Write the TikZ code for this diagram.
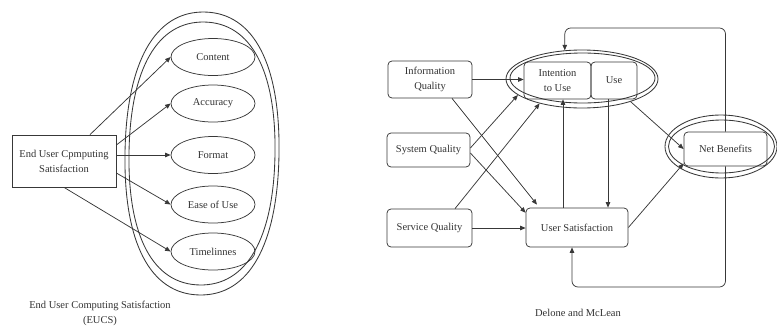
\documentclass[tikz,border=0pt]{standalone}
\usepackage{fontspec}
\setmainfont{Liberation Serif}
\usetikzlibrary{arrows.meta,shapes.geometric}
\begin{document}
\begin{tikzpicture}[x=1pt,y=-1pt,
  every node/.style={font=\fontsize{10.5}{15}\selectfont, text=black!80, align=center, inner sep=0pt},
  line/.style={draw=black!78, line width=0.75pt},
  arr/.style={line, -{Triangle[length=5.5pt,width=4.5pt]}},
  sqbox/.style={line, rectangle, fill=white},
  rbox/.style={line, rectangle, rounded corners=4pt},
  oval/.style={line, ellipse, minimum width=84, minimum height=37},
  ring/.style={line, ellipse, line width=0.85pt},
  loop/.style={line, line width=0.85pt},
]
\useasboundingbox (0,0) rectangle (777,327);

% ---------------- EUCS model ----------------
% double rounded outline grouping the five dimensions
\begin{scope}[shift={(202,153.5)}, rotate=-1]
  \draw[loop] (77,0) .. controls (77,90.6) and (49.3,141.5) .. (0,141.5)
    .. controls (-49.3,141.5) and (-77,90.6) .. (-77,0)
    .. controls (-77,-90.6) and (-49.3,-141.5) .. (0,-141.5)
    .. controls (49.3,-141.5) and (77,-90.6) .. (77,0) -- cycle;
  \draw[loop] (73,0) .. controls (73,84.2) and (46.7,131.5) .. (0,131.5)
    .. controls (-46.7,131.5) and (-73,84.2) .. (-73,0)
    .. controls (-73,-84.2) and (-46.7,-131.5) .. (0,-131.5)
    .. controls (46.7,-131.5) and (73,-84.2) .. (73,0) -- cycle;
\end{scope}

\node[sqbox, minimum width=104, minimum height=52] (eucs) at (64,161) {End User Cpmputing\\Satisfaction};

\node[oval] (c1) at (213,57) {Content};
\node[oval] (c2) at (213,103.5) {Accuracy};
\node[oval] (c3) at (213,155) {Format};
\node[oval] (c4) at (213,204.5) {Ease of Use};
\node[oval] (c5) at (213,251.5) {Timelinnes};

\draw[arr] ([xshift=26pt]eucs.north) -- (c1.west);
\draw[arr] ([yshift=16pt]eucs.east) -- (c2.west);
\draw[arr] (eucs.east |- c3.west) -- (c3.west);
\draw[arr] ([yshift=-12pt]eucs.east) -- (c4.west);
\draw[arr] (eucs.south) -- (c5.west);

\node (cap1) at (100,313) {End User Computing Satisfaction\\(EUCS)};

% ---------------- DeLone and McLean model ----------------
\node[rbox, minimum width=84, minimum height=37] (iq) at (430,79.5) {Information\\Quality};
\node[rbox, minimum width=83, minimum height=34] (sq) at (428.5,150) {System Quality};
\node[rbox, minimum width=85, minimum height=38] (svq) at (429.5,228) {Service Quality};
\node[rbox, minimum width=102, minimum height=39] (us) at (577,227.5) {User Satisfaction};
\node[rbox, minimum width=67, minimum height=37] (int) at (557.5,80.5) {Intention\\to Use};
\node[rbox, minimum width=46, minimum height=37] (use) at (614,80.5) {Use};
\node[rbox, minimum width=83, minimum height=34] (nb) at (725.5,149) {Net Benefits};

\node[ring, minimum width=152, minimum height=58] (iuo) at (582,79) {};
\node[ring, minimum width=145, minimum height=50] (iui) at (582.5,78) {};
\node[ring, minimum width=112, minimum height=63] (nbo) at (721,146.5) {};
\node[ring, minimum width=106, minimum height=53] (nbi) at (721.5,146.5) {};

\coordinate (fbtop) at (0,28);
\coordinate (fbbot) at (0,287);
\coordinate (usin) at ([xshift=-5pt]us.south);
\coordinate (usout) at ([xshift=-14pt]us.north);
\coordinate (usedown) at ([xshift=-6pt]use.south);

\draw[arr] (iq.east) -- (iq.east -| int.west);
\draw[arr] ([xshift=22pt]iq.south) -- ([xshift=-40pt,yshift=3pt]us.north);
\draw[arr] ([yshift=2pt]sq.east) -- (iuo.194);
\draw[arr] ([yshift=-3pt]sq.east) -- (us.164);
\draw[arr] ([xshift=25.5pt]svq.north) -- (iuo.210);
\draw[arr] (svq.east) -- (svq.east -| us.west);
\draw[arr] (usout) -- (usout |- int.south);
\draw[arr] (usedown) -- (usedown |- us.north);
\draw[arr] (iuo.335) -- (nb.west);
\draw[arr] (us.east) -- ([yshift=3pt]nb.south west);

\draw[arr, rounded corners=6pt] (nb.north) -- (nb.north |- fbtop) -- (iuo.121 |- fbtop) -- (iuo.121);
\draw[arr, rounded corners=6pt] (nb.south) -- (nb.south |- fbbot) -- (usin |- fbbot) -- (usin);

\node (cap2) at (578,313) {Delone and McLean};
\end{tikzpicture}
\end{document}
